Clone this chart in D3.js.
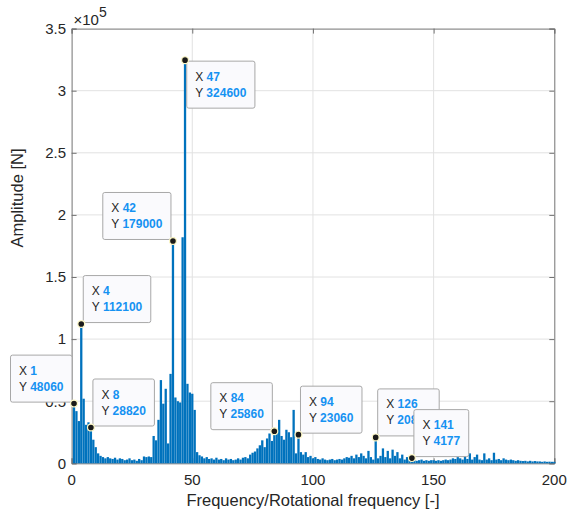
<!DOCTYPE html>
<html>
<head>
<meta charset="utf-8">
<script src="https://cdn.jsdelivr.net/npm/d3@7"></script>
<style>
  html, body { margin: 0; padding: 0; background: #ffffff; }
  svg { display: block; }
  text { font-family: "Liberation Sans", Arial, Helvetica, sans-serif; }
</style>
</head>
<body>
<svg id="chart" width="567" height="514"></svg>
<script>
// Spectrum amplitudes [N] for orders 1..200 (frequency / rotational frequency)
const amplitude = [
  48060, 42000, 34000, 112100, 52000, 31000, 33000, 28820, 19000, 13000,
  8000, 6000, 5000, 4000, 5000, 4000, 3500, 4500, 3000, 4000,
  3500, 2500, 3000, 4000, 2500, 3000, 2000, 3500, 2500, 5500,
  5000, 5500, 5000, 22000, 18500, 35000, 67000, 48000, 60000, 16000,
  72000, 179000, 53000, 50000, 49000, 182000, 324600, 64000, 57000, 56000,
  43000, 9000, 6500, 5500, 4000, 5000, 3500, 4000, 3000, 4500,
  3000, 3500, 2500, 4000, 3000, 3500, 2500, 3000, 4000, 3000,
  4500, 5000, 4000, 7000, 8500, 9500, 12000, 14500, 18500, 13000,
  20000, 24000, 18000, 25860, 27000, 35000, 22000, 19000, 27000, 25000,
  21000, 43000, 8000, 23060, 9000, 7000, 9000, 5000, 6000, 4000,
  5000, 3500, 3000, 4000, 3000, 2500, 3000, 3500, 2500, 3000,
  3500, 3000, 4000, 5000, 4500, 6000, 4000, 7000, 5000, 8000,
  6000, 4000, 10000, 5000, 3000, 20840, 4000, 6000, 12000, 5000,
  10000, 4000, 11000, 6000, 9000, 4000, 7000, 3000, 5000, 3000,
  4177, 2500, 2000, 2500, 3000, 2000, 2500, 2000, 2500, 2500,
  2000, 2500, 2000, 2500, 3000, 2500, 3000, 4000, 3500, 5000,
  4000, 3000, 6000, 3500, 8000, 3000, 5000, 7000, 3000, 2500,
  8000, 3000, 4000, 2500, 8500, 3000, 3500, 2500, 4000, 3000,
  2500, 3000, 2500, 2000, 2500, 2000, 1800, 2000, 1500, 2000,
  1500, 1800, 1500, 1500, 1200, 1500, 1200, 1300, 1200, 1200
];
const orders = amplitude.map((_, i) => i + 1);

// Axis ticks
const xTicks = [0, 50, 100, 150, 200];
const yTicks = [0, 50000, 100000, 150000, 200000, 250000, 300000, 350000];

// Data tips: order and where the label box sits relative to the point
const tipOrders = [1, 4, 8, 42, 47, 84, 94, 126, 141];
const tipSides  = ["ul", "ur", "ur", "ul", "dr", "ul", "ur", "ur", "ur"];

const svg = d3.select("#chart");
const plotLeft = 71.6, plotRight = 554.3, plotTop = 28.6, plotBottom = 463.3;

const x = d3.scaleLinear().domain([0, 200]).range([plotLeft, plotRight]);
const y = d3.scaleLinear().domain([0, 350000]).range([plotBottom, plotTop]);

const axisColor = "#737373";
const textColor = "#262626";

// Grid
const grid = svg.append("g");
grid.selectAll("line.gx").data(xTicks.slice(1, -1)).join("line")
  .attr("x1", d => x(d)).attr("x2", d => x(d))
  .attr("y1", plotTop).attr("y2", plotBottom)
  .attr("stroke", "#e2e2e2").attr("stroke-width", 1);
grid.selectAll("line.gy").data(yTicks.slice(1, -1)).join("line")
  .attr("y1", d => y(d)).attr("y2", d => y(d))
  .attr("x1", plotLeft).attr("x2", plotRight)
  .attr("stroke", "#e2e2e2").attr("stroke-width", 1);

// Axes (box with inward ticks on all four sides)
const tickLen = 5;
const axG = svg.append("g");
const xAxisB = d3.axisBottom(x).tickValues(xTicks).tickSize(-tickLen).tickFormat("");
const xAxisT = d3.axisTop(x).tickValues(xTicks).tickSize(-tickLen).tickFormat("");
const yAxisL = d3.axisLeft(y).tickValues(yTicks).tickSize(-tickLen).tickFormat("");
const yAxisR = d3.axisRight(y).tickValues(yTicks).tickSize(-tickLen).tickFormat("");
axG.append("g").attr("transform", `translate(0,${plotBottom})`).call(xAxisB);
axG.append("g").attr("transform", `translate(0,${plotTop})`).call(xAxisT);
axG.append("g").attr("transform", `translate(${plotLeft},0)`).call(yAxisL);
axG.append("g").attr("transform", `translate(${plotRight},0)`).call(yAxisR);
axG.selectAll("path.domain").attr("stroke", axisColor).attr("stroke-width", 1);
axG.selectAll(".tick line").attr("stroke", axisColor).attr("stroke-width", 1);

// Tick labels
svg.append("g").selectAll("text").data(xTicks).join("text")
  .attr("x", d => x(d)).attr("y", 484.5)
  .attr("text-anchor", "middle")
  .attr("font-size", 15).attr("fill", textColor)
  .text(d => d);
svg.append("g").selectAll("text").data(yTicks).join("text")
  .attr("x", 66).attr("y", d => y(d) + 5.3)
  .attr("text-anchor", "end")
  .attr("font-size", 15).attr("fill", textColor)
  .text(d => d3.format("~g")(d / 1e5));

// Exponent marker
const expo = svg.append("text").attr("x", 73.5).attr("y", 24.5)
  .attr("font-size", 15).attr("fill", textColor);
expo.append("tspan").text("\u00d710");
expo.append("tspan").attr("dy", -8).attr("font-size", 14).text("5");

// Axis titles
svg.append("text")
  .attr("x", (plotLeft + plotRight) / 2).attr("y", 506)
  .attr("text-anchor", "middle")
  .attr("font-size", 16.5).attr("fill", textColor)
  .text("Frequency/Rotational frequency [-]");
svg.append("text")
  .attr("transform", "translate(23,198) rotate(-90)")
  .attr("text-anchor", "middle")
  .attr("font-size", 16.5).attr("fill", textColor)
  .text("Amplitude [N]");

// Bars
const barW = (x(1) - x(0)) * 0.95;
svg.append("g").selectAll("rect").data(orders).join("rect")
  .attr("x", d => x(d) - barW / 2)
  .attr("width", barW)
  .attr("y", d => y(amplitude[d - 1]))
  .attr("height", d => plotBottom - y(amplitude[d - 1]))
  .attr("fill", "#0072BD");

// Data tips (later ones drawn over earlier ones)
const tipG = svg.append("g");
tipOrders.forEach((o, i) => {
  const v = amplitude[o - 1];
  const mx = x(o), my = y(v);
  const g = tipG.append("g");
  const box = g.append("rect");
  const t = g.append("text").attr("font-size", 12);
  t.append("tspan").attr("fill", textColor).text("X ");
  t.append("tspan").attr("fill", "#1592f2").attr("font-weight", "bold").text(o);
  const t2 = g.append("text").attr("font-size", 12);
  t2.append("tspan").attr("fill", textColor).text("Y ");
  t2.append("tspan").attr("fill", "#1592f2").attr("font-weight", "bold").text(v);

  const pad = 8.5, h = 47;
  const w = Math.max(t.node().getComputedTextLength(), t2.node().getComputedTextLength()) + pad * 2;
  const side = tipSides[i];
  let bx, by;
  if (side === "ul") { bx = mx - 2 - w; by = my - 1.5 - h; }
  else if (side === "ur") { bx = mx + 2; by = my - 1.5 - h; }
  else { bx = mx + 1.7; by = my + 1; }
  box.attr("x", bx).attr("y", by).attr("width", w).attr("height", h)
    .attr("rx", 2).attr("ry", 2)
    .attr("fill", "#fafafd").attr("stroke", "#a8a8a8").attr("stroke-width", 1);
  t.attr("x", bx + pad).attr("y", by + 19.5);
  t2.attr("x", bx + pad).attr("y", by + 35.5);

  g.append("circle").attr("cx", mx).attr("cy", my).attr("r", 3.4)
    .attr("fill", "#1a1a1a").attr("stroke", "#fdf8c8").attr("stroke-width", 1.2);
});
</script>
</body>
</html>
